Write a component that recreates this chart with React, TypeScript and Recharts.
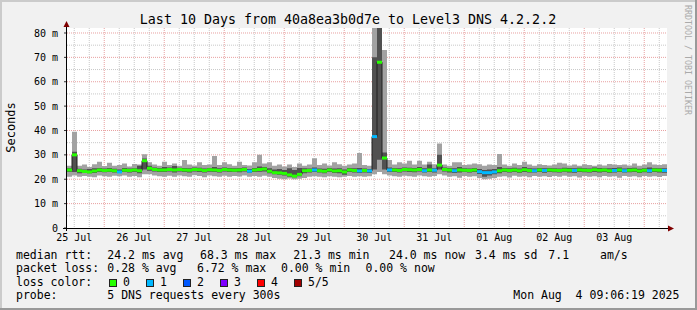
import React from "react";
import { ComposedChart, Area, Line, Scatter, XAxis, YAxis, CartesianGrid } from "recharts";

// 2-hour bins over the 10 day window, values in ms
const LO = [
  21.0, 21.5, 21.0, 21.3, 21.0, 20.8, 21.5, 21.2, 21.0, 21.4,
  21.2, 21.5, 21.0, 21.3, 20.8, 22.0, 22.0, 21.5, 21.2, 21.0,
  21.4, 21.0, 21.5, 21.2, 21.0, 21.6, 21.3, 20.8, 21.5, 21.2,
  21.0, 21.4, 21.0, 21.3, 21.1, 21.5, 21.0, 21.3, 21.0, 21.4,
  21.0, 20.5, 20.2, 20.0, 20.3, 20.0, 20.2, 20.5, 21.0, 21.2,
  21.0, 20.8, 21.2, 21.0, 20.8, 21.0, 21.3, 21.0, 21.2, 21.0,
  21.2, 22.0, 23.0, 22.0, 21.5, 21.2, 21.0, 21.4, 21.2, 21.0,
  21.5, 21.2, 21.0, 21.3, 22.0, 21.5, 21.0, 21.2, 20.6, 21.3,
  21.0, 21.2, 20.5, 20.0, 20.2, 20.5, 21.0, 21.2, 20.7, 21.4,
  21.0, 21.2, 20.8, 21.3, 21.0, 21.2, 20.9, 21.3, 21.0, 21.4,
  21.0, 21.2, 20.7, 21.3, 21.0, 21.2, 20.8, 21.3, 21.0, 21.2,
  20.6, 21.3, 21.0, 21.2, 20.8, 21.3, 21.0, 21.2, 20.9, 21.3,
];
const Q1 = [
  23.0, 23.0, 22.5, 22.8, 22.5, 22.6, 23.0, 22.9, 23.0, 22.8,
  22.6, 23.0, 22.8, 23.0, 22.5, 24.0, 23.5, 23.2, 23.0, 23.0,
  23.2, 22.8, 23.2, 23.0, 22.8, 23.2, 23.0, 22.8, 23.1, 23.0,
  22.8, 23.2, 23.0, 23.0, 22.9, 23.2, 22.7, 23.0, 23.1, 23.2,
  22.5, 22.0, 21.8, 21.5, 21.0, 20.8, 21.2, 22.5, 22.8, 23.0,
  22.8, 22.5, 23.0, 22.6, 22.5, 21.8, 23.0, 22.8, 22.6, 22.8,
  22.6, 24.0, 28.0, 24.0, 23.0, 23.0, 22.8, 23.2, 23.0, 22.9,
  23.2, 22.8, 23.0, 22.8, 24.0, 23.2, 22.8, 22.6, 22.8, 23.0,
  22.8, 23.0, 22.2, 21.0, 21.5, 22.0, 22.5, 23.0, 22.8, 23.0,
  22.7, 23.0, 22.8, 22.8, 23.0, 22.7, 23.0, 22.9, 22.8, 23.1,
  22.8, 22.7, 23.0, 22.9, 22.8, 23.0, 22.8, 23.0, 22.7, 22.8,
  23.0, 22.8, 22.9, 23.0, 22.6, 22.9, 22.7, 23.0, 22.8, 22.7,
];
const MED = [
  23.8, 30.0, 23.5, 23.2, 23.0, 23.4, 23.8, 23.6, 23.7, 23.5,
  23.0, 23.7, 23.6, 23.8, 23.5, 27.6, 24.5, 24.0, 23.8, 23.8,
  24.0, 23.8, 24.0, 23.8, 23.7, 24.0, 23.9, 23.6, 23.9, 23.8,
  23.6, 24.0, 23.8, 23.7, 23.8, 24.0, 23.3, 23.8, 24.0, 24.2,
  23.3, 22.7, 22.6, 22.4, 21.8, 21.3, 22.0, 23.5, 23.6, 23.8,
  23.5, 23.3, 23.8, 23.4, 23.5, 23.0, 23.8, 23.6, 23.4, 23.6,
  23.4, 37.5, 68.0, 28.7, 23.8, 23.8, 23.6, 24.0, 23.9, 23.8,
  24.0, 23.5, 23.8, 23.7, 25.8, 24.0, 23.8, 23.5, 23.8, 23.7,
  23.6, 23.8, 23.1, 22.7, 22.7, 23.0, 23.5, 23.8, 23.6, 23.8,
  23.5, 23.9, 23.6, 23.5, 23.8, 23.6, 23.8, 23.7, 23.6, 23.8,
  23.7, 23.6, 23.8, 23.7, 23.6, 23.9, 23.7, 23.8, 23.5, 23.6,
  23.8, 23.5, 23.7, 23.8, 23.4, 23.7, 23.5, 23.8, 23.7, 23.6,
];
const Q3 = [
  24.5, 31.3, 24.3, 24.0, 24.2, 24.5, 24.6, 24.4, 24.6, 24.3,
  24.0, 24.6, 24.4, 24.5, 25.5, 28.5, 25.5, 24.8, 24.6, 25.0,
  24.8, 25.4, 24.7, 24.6, 24.5, 24.8, 24.7, 24.4, 24.6, 25.0,
  24.5, 24.8, 24.6, 24.5, 24.6, 24.8, 24.2, 24.6, 25.2, 25.0,
  24.5, 24.0, 24.2, 23.8, 24.5, 23.8, 24.6, 24.5, 24.4, 24.8,
  24.4, 24.3, 24.6, 24.4, 24.5, 24.0, 24.6, 24.5, 24.6, 24.4,
  24.2, 70.0, 82.0, 31.0, 24.8, 24.6, 24.5, 24.8, 24.7, 24.6,
  25.0, 24.5, 26.0, 24.5, 30.0, 24.8, 24.6, 24.5, 25.0, 24.5,
  24.4, 24.6, 24.2, 23.8, 24.0, 24.2, 25.0, 24.6, 24.5, 24.7,
  24.4, 25.0, 24.5, 24.4, 24.6, 24.5, 24.6, 24.5, 24.4, 24.7,
  24.6, 24.5, 24.7, 24.5, 24.4, 24.8, 24.6, 24.5, 24.5, 24.6,
  24.8, 24.4, 24.6, 24.7, 24.3, 24.5, 24.8, 24.6, 24.5, 24.5,
];
const HI = [
  25.5, 39.5, 25.5, 26.0, 25.0, 26.2, 27.2, 25.4, 26.8, 25.5,
  25.8, 26.5, 25.2, 26.3, 26.0, 30.3, 27.0, 26.0, 25.5, 27.2,
  25.8, 26.5, 25.5, 27.9, 26.0, 25.6, 27.0, 25.8, 26.0, 29.5,
  25.8, 27.0, 26.2, 25.5, 27.2, 25.8, 25.6, 27.0, 30.0, 26.5,
  27.0, 25.5, 26.0, 25.2, 26.0, 25.0, 26.5, 25.5, 26.0, 28.6,
  25.8, 26.5, 25.6, 27.0, 26.2, 25.5, 26.0, 26.5, 30.8, 25.8,
  25.5, 82.0, 82.0, 73.0, 27.9, 26.0, 27.0, 26.5, 27.6, 26.0,
  27.6, 26.0, 27.2, 26.2, 34.7, 26.0, 25.5, 27.0, 27.0, 25.8,
  26.0, 26.5, 26.2, 25.5, 26.0, 25.8, 30.4, 26.0, 25.5, 26.5,
  25.8, 27.2, 26.0, 25.5, 26.2, 25.8, 25.6, 26.0, 26.8, 26.5,
  25.6, 26.0, 25.5, 26.2, 25.8, 25.5, 26.0, 25.6, 26.3, 26.0,
  25.8, 26.0, 25.6, 26.5, 25.5, 26.0, 27.0, 26.0, 25.8, 26.2,
];
// lost pings (of 5) per bin
const LOSS = [
  0, 0, 0, 0, 0, 0, 0, 0, 0, 0,
  1, 0, 0, 0, 0, 0, 0, 0, 0, 0,
  0, 0, 0, 0, 0, 0, 0, 0, 0, 0,
  0, 0, 0, 0, 0, 0, 1, 0, 0, 0,
  0, 0, 0, 0, 0, 0, 0, 0, 0, 1,
  0, 0, 0, 0, 0, 0, 0, 0, 1, 0,
  1, 1, 0, 0, 1, 0, 0, 0, 0, 0,
  0, 1, 0, 1, 0, 0, 0, 1, 0, 0,
  0, 0, 1, 1, 1, 1, 0, 0, 0, 0,
  0, 0, 0, 1, 0, 1, 0, 0, 0, 0,
  0, 1, 0, 0, 0, 0, 0, 0, 0, 1,
  0, 1, 0, 0, 0, 0, 1, 0, 0, 1,
];

const DAY_LABELS = ["25 Jul", "26 Jul", "27 Jul", "28 Jul", "29 Jul", "30 Jul", "31 Jul", "01 Aug", "02 Aug", "03 Aug"];
const Y_TICKS = [0, 10, 20, 30, 40, 50, 60, 70, 80];
const Y_MINOR = [5, 15, 25, 35, 45, 55, 65, 75];
const LOSS_COLORS = ["#26ff00", "#00b8ff", "#0059ff", "#7e00ff", "#ff0000", "#a10000"];
const LOSS_NAMES = ["0", "1", "2", "3", "4", "5/5"];

const TITLE = "Last 10 Days from 40a8ea3b0d7e to Level3 DNS 4.2.2.2";
const RTT_ITEMS: [number, string][] = [
  [16, "median rtt:"], [107.3, "24.2 ms avg"], [200, "68.3 ms max"], [293.3, "21.3 ms min"],
  [389, "24.0 ms now"], [475, "3.4 ms sd"], [548.3, "7.1"], [600, "am/s"],
];
const LOSS_ITEMS: [number, string][] = [
  [16, "packet loss:"], [107.3, "0.28 % avg"], [197, "6.72 % max"], [281, "0.00 % min"], [365.5, "0.00 % now"],
];
const PROBE = "5 DNS requests every 300s";
const STAMP = "Mon Aug  4 09:06:19 2025";

const BIN_HOURS = 2;
const SPAN_HOURS = 240;
const FIRST_NOON = 2.895; // graph starts Jul 25 09:06:19
const MONO = "DejaVu Sans Mono";

const rows: any[] = LO.map((_, i) => ({
  t: i * BIN_HOURS,
  outer: [LO[i], HI[i]],
  inner: [Q1[i], Q3[i]],
  med: MED[i],
  loss: LOSS[i],
}));
rows.push({ ...rows[rows.length - 1], t: SPAN_HOURS, closing: true });

const noonTicks = DAY_LABELS.map((_, k) => FIRST_NOON + 24 * k);
const sixHours = Array.from({ length: 40 }, (_, k) => FIRST_NOON + 6 * k);
const midnights = sixHours.filter((_, k) => k % 4 === 2);
const minorX = sixHours.filter((_, k) => k % 4 !== 2);

function MedianStep(props: any) {
  const { cx, cy, payload } = props;
  if (payload?.closing || cx == null || cy == null || isNaN(cy)) return <g />;
  return <rect x={cx} y={cy - 1.5} width={5} height={3} fill={LOSS_COLORS[payload.loss]} />;
}

function Overlay() {
  const boxX = [109, 146, 183, 220, 257, 294];
  const text = { fontFamily: MONO, fontSize: 11.5, fill: "#000", whiteSpace: "pre" as const };
  return (
    <svg width={697} height={310} style={{ position: "absolute", left: 0, top: 0, pointerEvents: "none" }}>
      <rect x={0} y={0} width={697} height={2} fill="#cbcbcb" />
      <rect x={0} y={0} width={2} height={310} fill="#cbcbcb" />
      <rect x={695} y={0} width={2} height={310} fill="#999" />
      <rect x={0} y={308} width={697} height={2} fill="#999" />
      <text x={348} y={23.5} textAnchor="middle" style={{ ...text, fontSize: 13.3 }}>{TITLE}</text>
      <text transform="translate(14.5,127.5) rotate(-90)" textAnchor="middle" style={{ ...text, fontSize: 12 }}>Seconds</text>
      <text transform="translate(685,5) rotate(90)" style={{ fontFamily: MONO, fontSize: 8.3, fill: "#aaa" }}>
        RRDTOOL / TOBI OETIKER
      </text>
      <line x1={66.5} y1={231} x2={66.5} y2={26} stroke="#000" />
      <polygon points="63.5,27 69.5,27 66.5,21" fill="#800000" />
      <line x1={63} y1={228.5} x2={669} y2={228.5} stroke="#000" />
      <polygon points="668,225.5 668,231.5 674,228.5" fill="#800000" />
      {RTT_ITEMS.map(([x, s]) => (
        <text key={"r" + x} x={x} y={258.5} style={text}>{s}</text>
      ))}
      {LOSS_ITEMS.map(([x, s]) => (
        <text key={"l" + x} x={x} y={272} style={text}>{s}</text>
      ))}
      <text x={16} y={285.5} style={text}>loss color:</text>
      {LOSS_NAMES.map((n, i) => (
        <g key={n}>
          <rect x={boxX[i] + 0.5} y={279.5} width={7} height={7} fill={LOSS_COLORS[i]} stroke="#222" />
          <text x={boxX[i] + 14} y={285.5} style={text}>{n}</text>
        </g>
      ))}
      <text x={16} y={299} style={text}>probe:</text>
      <text x={107.3} y={299} style={text}>{PROBE}</text>
      <text x={513.3} y={299} style={text}>{STAMP}</text>
    </svg>
  );
}

export default function App() {
  const tickStyle = { fontSize: 10, fill: "#000", fontFamily: MONO };
  return (
    <div style={{ position: "absolute", left: 0, top: 0, width: 697, height: 310, background: "#f1f1f1" }}>
      <div style={{ position: "absolute", left: 67, top: 28, width: 600, height: 200, background: "#fff" }} />
      <div style={{ position: "absolute", left: 0, top: 0 }}>
        <ComposedChart width={697} height={310} data={rows} margin={{ top: 28, right: 30, bottom: 0, left: 0 }}>
          <CartesianGrid
            stroke="#c8c8c8"
            strokeDasharray="1 1"
            horizontalValues={Y_MINOR}
            verticalValues={minorX}
          />
          <CartesianGrid
            stroke="#e8a0a0"
            strokeDasharray="1 1"
            horizontalValues={Y_TICKS.filter((v) => v > 0)}
            verticalValues={midnights}
          />
          <XAxis
            dataKey="t"
            type="number"
            domain={[0, SPAN_HOURS]}
            allowDataOverflow
            ticks={noonTicks}
            interval={0}
            tickFormatter={(_v: number, i: number) => DAY_LABELS[i]}
            axisLine={false}
            tickLine={false}
            tickSize={0}
            tickMargin={6}
            height={82}
            tick={tickStyle}
          />
          <YAxis
            type="number"
            domain={[0, 82.05]}
            allowDataOverflow
            ticks={Y_TICKS}
            interval={0}
            tickFormatter={(v: number) => (v === 0 ? "0" : `${v} m`)}
            axisLine={false}
            tickLine={{ stroke: "#333" }}
            tickSize={3}
            tickMargin={6}
            width={67}
            tick={tickStyle}
          />
          <Area
            dataKey="outer"
            type="stepAfter"
            stroke="none"
            fill="#a2a2a2"
            fillOpacity={1}
            isAnimationActive={false}
          />
          <Area
            dataKey="inner"
            type="stepAfter"
            stroke="none"
            fill="#515151"
            fillOpacity={1}
            isAnimationActive={false}
          />
          <Line
            dataKey="med"
            type="stepAfter"
            stroke="#202020"
            strokeWidth={1}
            dot={false}
            isAnimationActive={false}
          />
          <Scatter dataKey="med" shape={MedianStep} isAnimationActive={false} />
        </ComposedChart>
      </div>
      <Overlay />
    </div>
  );
}
